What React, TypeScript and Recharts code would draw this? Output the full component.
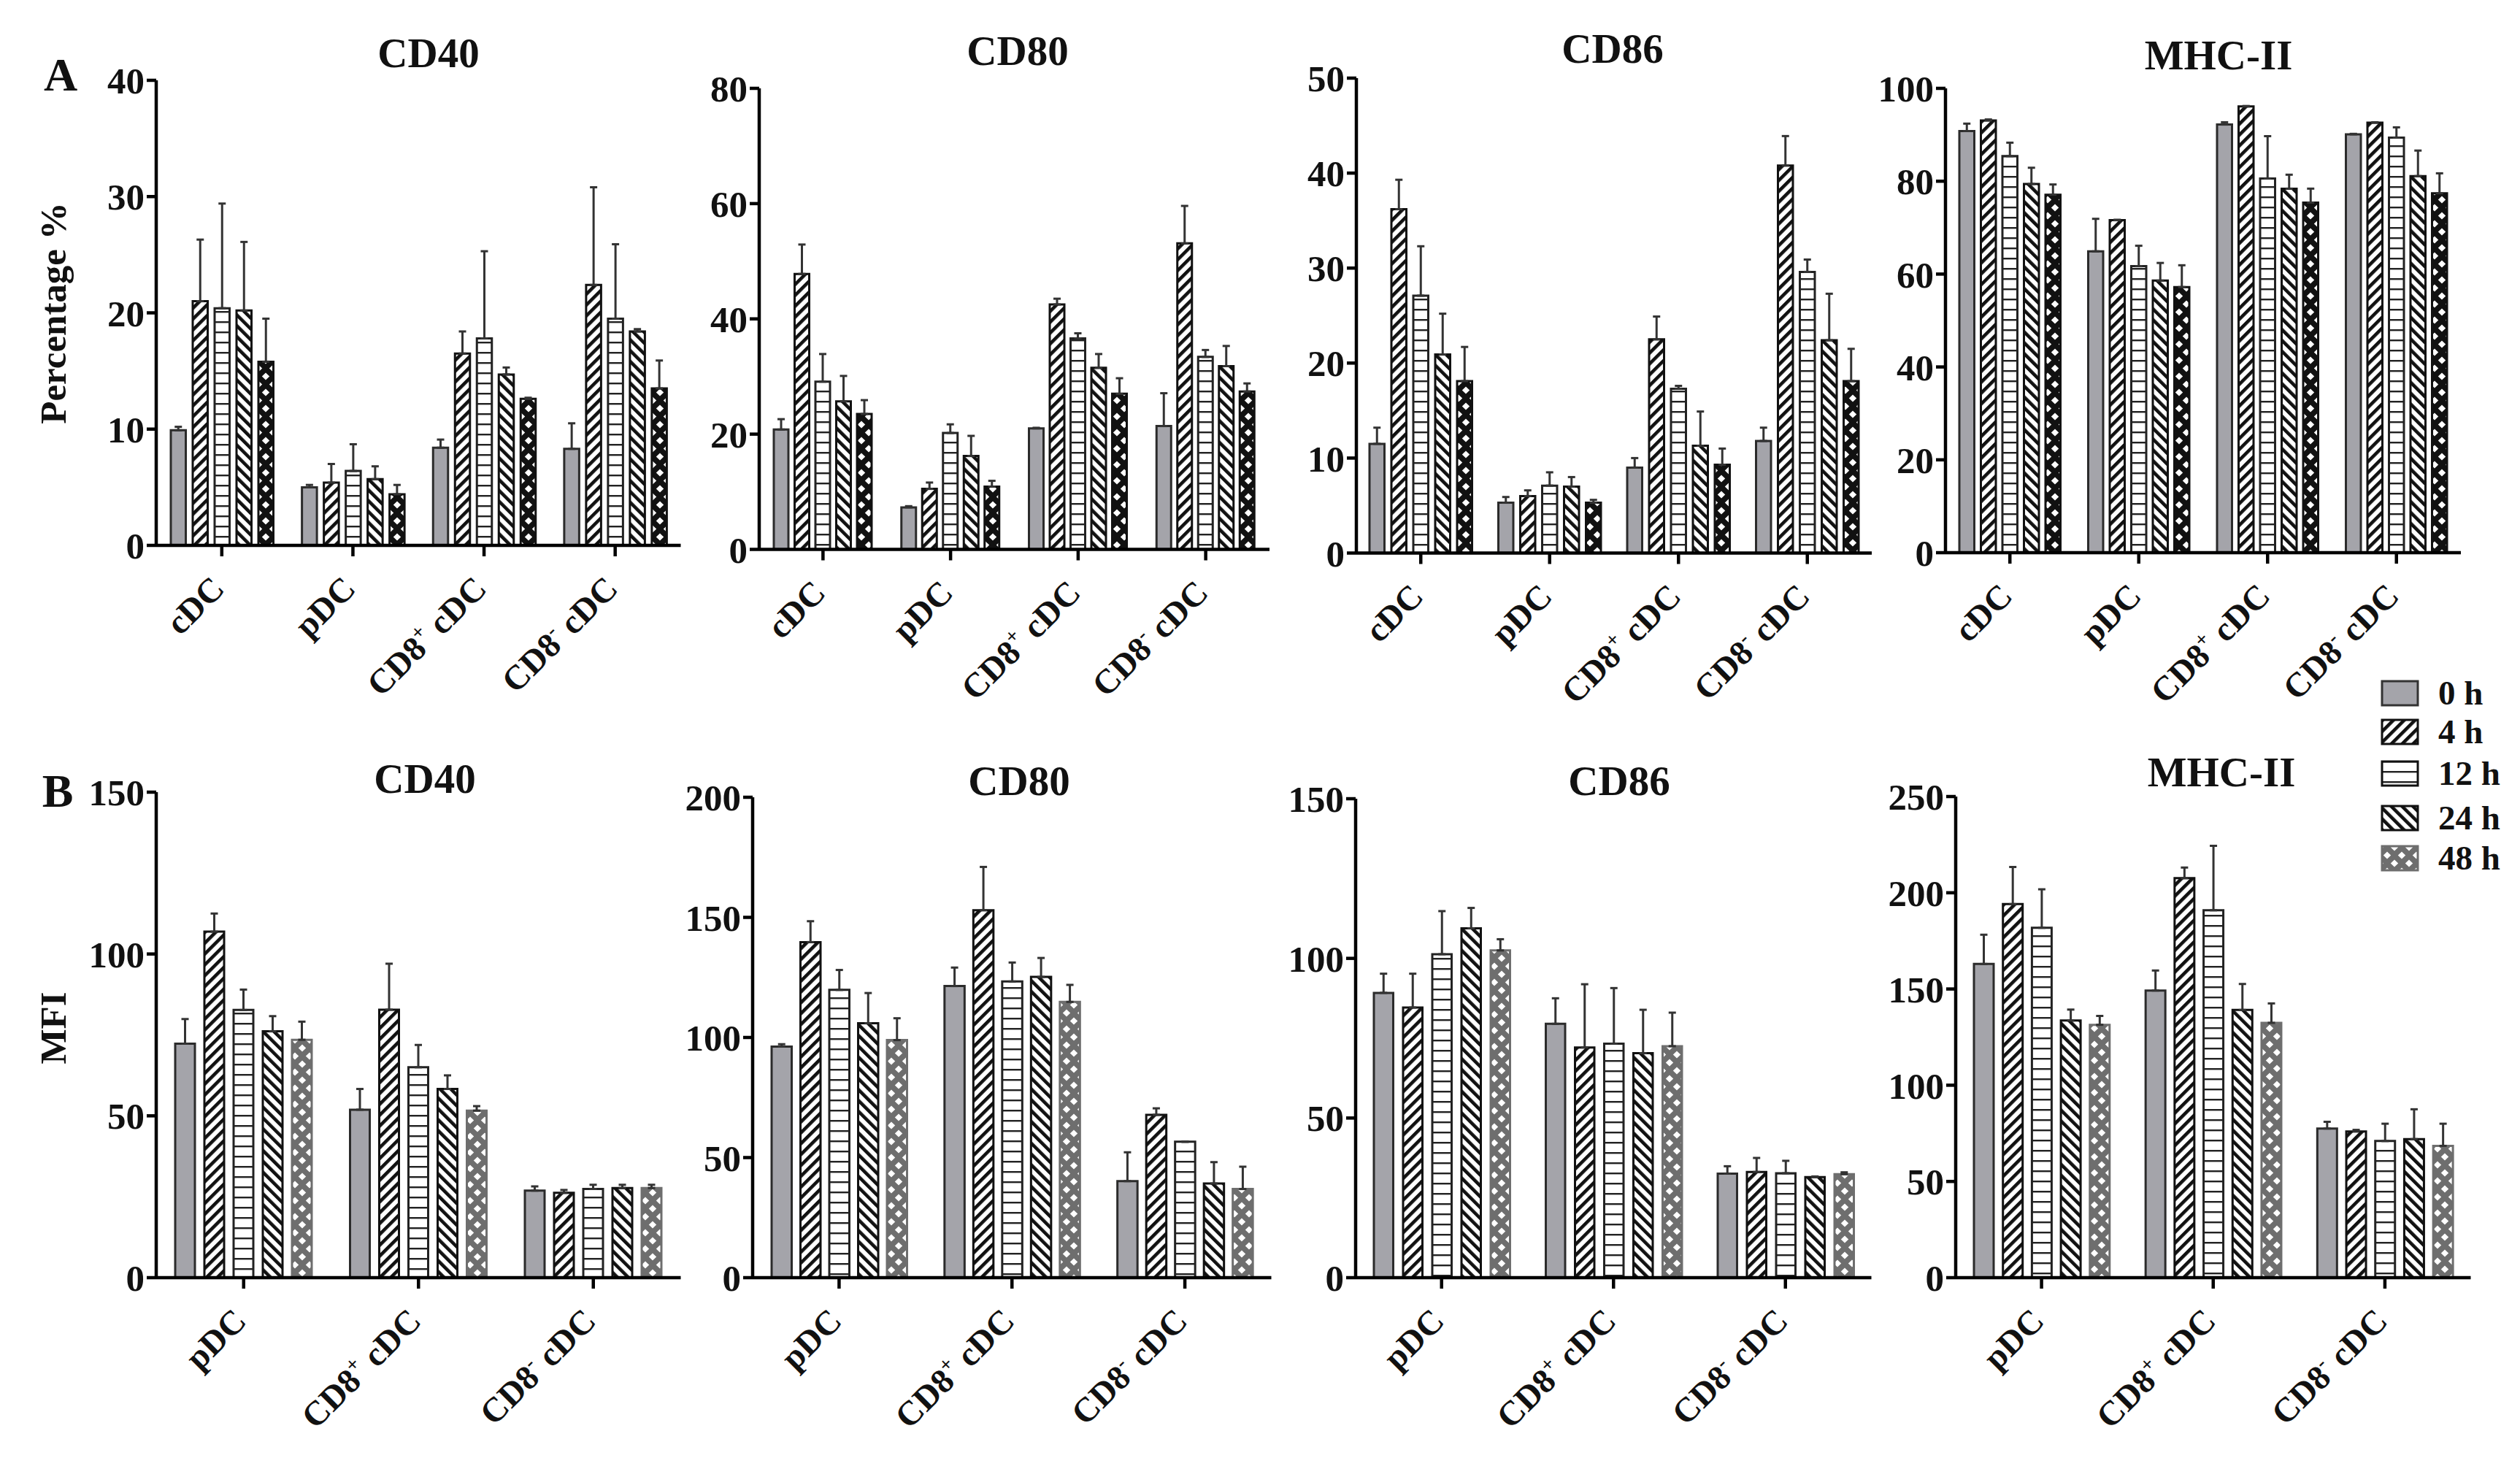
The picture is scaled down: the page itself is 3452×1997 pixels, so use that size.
import React from 'react';
import { BarChart, Bar, XAxis, YAxis, ErrorBar } from 'recharts';

// ---------- data ----------
const timePoints = ['0 h', '4 h', '12 h', '24 h', '48 h'];
const cellsA = ['cDC', 'pDC', 'CD8+ cDC', 'CD8- cDC'];
const cellsB = ['pDC', 'CD8+ cDC', 'CD8- cDC'];

// rows = cell types, columns = time points (0,4,12,24,48 h)
const aCD40Mean = [[9.9, 21.0, 20.4, 20.2, 15.8], [5.0, 5.4, 6.4, 5.7, 4.4], [8.4, 16.5, 17.8, 14.7, 12.6], [8.3, 22.4, 19.5, 18.4, 13.5]];
const aCD40Err = [[0.3, 5.3, 9.0, 5.9, 3.7], [0.2, 1.6, 2.3, 1.1, 0.8], [0.7, 1.9, 7.5, 0.6, 0.1], [2.2, 8.4, 6.4, 0.2, 2.4]];

const aCD80Mean = [[20.8, 47.8, 29.1, 25.7, 23.5], [7.3, 10.5, 20.2, 16.2, 10.9], [21.0, 42.5, 36.6, 31.5, 27.0], [21.4, 53.1, 33.4, 31.8, 27.4]];
const aCD80Err = [[1.8, 5.1, 4.8, 4.4, 2.4], [0.2, 1.1, 1.5, 3.5, 1.0], [0.1, 1.0, 0.9, 2.4, 2.7], [5.7, 6.5, 1.2, 3.5, 1.4]];

const aCD86Mean = [[11.5, 36.2, 27.1, 20.9, 18.1], [5.3, 6.0, 7.1, 7.0, 5.3], [9.0, 22.5, 17.3, 11.3, 9.3], [11.8, 40.8, 29.6, 22.4, 18.1]];
const aCD86Err = [[1.7, 3.1, 5.2, 4.3, 3.6], [0.6, 0.6, 1.4, 1.0, 0.3], [1.0, 2.4, 0.3, 3.6, 1.7], [1.4, 3.1, 1.3, 4.9, 3.4]];

const aMHCMean = [[90.8, 93.1, 85.4, 79.4, 77.1], [64.9, 71.6, 61.7, 58.6, 57.2], [92.2, 96.1, 80.6, 78.4, 75.4], [90.1, 92.6, 89.4, 81.1, 77.4]];
const aMHCErr = [[1.6, 0.2, 2.9, 3.5, 2.2], [7.0, 0.1, 4.4, 3.8, 4.7], [0.5, 0.1, 9.1, 3.0, 3.0], [0.1, 0.1, 2.2, 5.5, 4.3]];

const bCD40Mean = [[72.3, 106.9, 82.7, 76.1, 73.5], [51.9, 82.8, 65.0, 58.3, 51.6], [26.9, 26.2, 27.4, 27.7, 27.7]];
const bCD40Err = [[7.6, 5.6, 6.3, 4.7, 5.6], [6.4, 14.2, 6.9, 4.2, 1.4], [1.3, 0.9, 1.3, 1.0, 1.0]];

const bCD80Mean = [[96.2, 139.7, 119.8, 105.9, 98.9], [121.4, 153.0, 123.3, 125.2, 114.8], [40.2, 67.8, 56.6, 39.2, 36.9]];
const bCD80Err = [[1.0, 8.7, 8.3, 12.6, 9.1], [7.7, 18.0, 7.9, 7.9, 7.1], [12.0, 2.7, 0, 8.9, 9.3]];

const bCD86Mean = [[89.2, 84.6, 101.3, 109.4, 102.5], [79.5, 72.1, 73.3, 70.3, 72.5], [32.6, 33.1, 32.7, 31.5, 32.4]];
const bCD86Err = [[6.0, 10.6, 13.5, 6.4, 3.5], [8.0, 19.8, 17.4, 13.6, 10.5], [2.3, 4.4, 3.9, 0.2, 0.6]];

const bMHCMean = [[163.0, 194.1, 181.8, 133.6, 131.4], [149.2, 207.6, 190.9, 139.1, 132.4], [77.5, 76.0, 71.0, 72.0, 68.5]];
const bMHCErr = [[15.2, 19.3, 20.0, 5.7, 4.6], [10.4, 5.5, 33.5, 13.5, 10.1], [3.5, 0.8, 9.0, 15.5, 11.5]];

const ticksA40 = [0, 10, 20, 30, 40];
const ticksA80 = [0, 20, 40, 60, 80];
const ticksA50 = [0, 10, 20, 30, 40, 50];
const ticksA100 = [0, 20, 40, 60, 80, 100];
const ticksB150 = [0, 50, 100, 150];
const ticksB200 = [0, 50, 100, 150, 200];
const ticksB250 = [0, 50, 100, 150, 200, 250];

// ---------- helpers ----------
function buildTable(cells: string[], means: number[][], errs: number[][]) {
  return cells.map((cell, i) => {
    const row: any = { cell };
    timePoints.forEach((_, j) => {
      row['v' + j] = means[i][j];
      row['e' + j] = [0, errs[i][j]];
    });
    return row;
  });
}

const SERIF = "'Liberation Serif', 'Times New Roman', serif";

const fillsA = ['#a4a4aa', 'url(#pat4)', 'url(#pat12)', 'url(#pat24)', 'url(#pat48k)'];
const fillsB = ['#a4a4aa', 'url(#pat4)', 'url(#pat12)', 'url(#pat24)', 'url(#pat48g)'];
const strokesA = ['#2b2b2b', '#111', '#222', '#111', '#111'];
const strokesB = ['#2b2b2b', '#111', '#222', '#111', '#6e6e6e'];

const CatTick = (props: any) => {
  const { x, y, payload } = props;
  const label: string = String(payload.value);
  const ex = x + 6;
  const ey = y + 47;
  const m = label.match(/^CD8([+-]) (.*)$/);
  return (
    <text
      x={ex}
      y={ey}
      transform={`rotate(-45 ${ex} ${ey})`}
      textAnchor="end"
      fontFamily={SERIF}
      fontSize={47}
      fontWeight={700}
      fill="#111"
    >
      {m ? (
        <>
          <tspan>CD8</tspan>
          <tspan dy={-19} fontSize={28}>{m[1]}</tspan>
          <tspan dy={19}>{'\u00A0' + m[2]}</tspan>
        </>
      ) : (
        label
      )}
    </text>
  );
};

type PanelCfg = {
  data: any[];
  ticks: number[];
  axisX: number;
  axisEnd: number;
  topY: number;
  zeroY: number;
  barSize: number;
  barGap: number;
  fills: string[];
  strokes: string[];
};

function Panel({ cfg }: { cfg: PanelCfg }) {
  const w = cfg.axisEnd - cfg.axisX + 190;
  const h = cfg.zeroY - cfg.topY + 300;
  const max = cfg.ticks[cfg.ticks.length - 1];
  return (
    <div style={{ position: 'absolute', left: cfg.axisX - 180, top: cfg.topY - 40, width: w, height: h }}>
      <BarChart
        width={w}
        height={h}
        data={cfg.data}
        margin={{ top: 40, right: 10, bottom: 60, left: 30 }}
        barSize={cfg.barSize}
        barGap={cfg.barGap}
      >
        <XAxis
          dataKey="cell"
          height={200}
          interval={0}
          tickSize={15}
          tickMargin={0}
          axisLine={{ stroke: '#000', strokeWidth: 4.5 }}
          tickLine={{ stroke: '#000', strokeWidth: 4.5 }}
          tick={<CatTick />}
        />
        <YAxis
          width={150}
          domain={[0, max]}
          ticks={cfg.ticks}
          interval={0}
          tickSize={13}
          tickMargin={3}
          axisLine={{ stroke: '#000', strokeWidth: 4.5 }}
          tickLine={{ stroke: '#000', strokeWidth: 4.5 }}
          tick={{ fill: '#111', fontSize: 51, fontWeight: 700, fontFamily: SERIF }}
        />
        {timePoints.map((t, j) => (
          <Bar
            key={t}
            name={t}
            dataKey={'v' + j}
            fill={cfg.fills[j]}
            stroke={cfg.strokes[j]}
            strokeWidth={3}
            isAnimationActive={false}
          >
            <ErrorBar dataKey={'e' + j} width={5} stroke="#333" strokeWidth={3} direction="y" isAnimationActive={false} />
          </Bar>
        ))}
      </BarChart>
    </div>
  );
}

const panels: PanelCfg[] = [
  { data: buildTable(cellsA, aCD40Mean, aCD40Err), ticks: ticksA40, axisX: 213.5, axisEnd: 932, topY: 110, zeroY: 747, barSize: 20.5, barGap: 9.5, fills: fillsA, strokes: strokesA },
  { data: buildTable(cellsA, aCD80Mean, aCD80Err), ticks: ticksA80, axisX: 1040, axisEnd: 1739, topY: 121, zeroY: 752.5, barSize: 20, barGap: 8.5, fills: fillsA, strokes: strokesA },
  { data: buildTable(cellsA, aCD86Mean, aCD86Err), ticks: ticksA50, axisX: 1858, axisEnd: 2564, topY: 106.5, zeroY: 757, barSize: 20.5, barGap: 9.5, fills: fillsA, strokes: strokesA },
  { data: buildTable(cellsA, aMHCMean, aMHCErr), ticks: ticksA100, axisX: 2665, axisEnd: 3371, topY: 121, zeroY: 757, barSize: 20.5, barGap: 9, fills: fillsA, strokes: strokesA },
  { data: buildTable(cellsB, bCD40Mean, bCD40Err), ticks: ticksB150, axisX: 213.5, axisEnd: 932, topY: 1085, zeroY: 1750, barSize: 27, barGap: 13, fills: fillsB, strokes: strokesB },
  { data: buildTable(cellsB, bCD80Mean, bCD80Err), ticks: ticksB200, axisX: 1030.5, axisEnd: 1741, topY: 1092, zeroY: 1750, barSize: 27.5, barGap: 12, fills: fillsB, strokes: strokesB },
  { data: buildTable(cellsB, bCD86Mean, bCD86Err), ticks: ticksB150, axisX: 1857, axisEnd: 2563.5, topY: 1094, zeroY: 1750, barSize: 26.5, barGap: 13.5, fills: fillsB, strokes: strokesB },
  { data: buildTable(cellsB, bMHCMean, bMHCErr), ticks: ticksB250, axisX: 2678.5, axisEnd: 3384, topY: 1091, zeroY: 1750, barSize: 27, barGap: 12.7, fills: fillsB, strokes: strokesB },
];

const titles = [
  { text: 'CD40', x: 587, y: 92 },
  { text: 'CD80', x: 1394, y: 89 },
  { text: 'CD86', x: 2209, y: 86 },
  { text: 'MHC-II', x: 3039, y: 95 },
  { text: 'CD40', x: 582, y: 1086 },
  { text: 'CD80', x: 1396, y: 1089 },
  { text: 'CD86', x: 2218, y: 1089 },
  { text: 'MHC-II', x: 3043, y: 1077 },
];

const legendRows = [
  { y: 933, fill: '#a4a4aa', stroke: '#333' },
  { y: 986, fill: 'url(#pat4)', stroke: '#111' },
  { y: 1043, fill: 'url(#pat12)', stroke: '#111' },
  { y: 1104, fill: 'url(#pat24)', stroke: '#111' },
  { y: 1159, fill: 'url(#pat48g)', stroke: '#6e6e6e' },
];

function Overlay() {
  return (
    <svg
      width={3452}
      height={1997}
      style={{ position: 'absolute', left: 0, top: 0, pointerEvents: 'none' }}
      fontFamily={SERIF}
      fontWeight={700}
    >
      <defs>
        <pattern id="pat4" patternUnits="userSpaceOnUse" width="10.5" height="10.5" patternTransform="rotate(45)">
          <rect width="10.5" height="10.5" fill="#fff" />
          <rect width="4.6" height="10.5" fill="#111" />
        </pattern>
        <pattern id="pat24" patternUnits="userSpaceOnUse" width="10.5" height="10.5" patternTransform="rotate(-45)">
          <rect width="10.5" height="10.5" fill="#fff" />
          <rect width="4.6" height="10.5" fill="#111" />
        </pattern>
        <pattern id="pat12" patternUnits="userSpaceOnUse" width="10" height="14">
          <rect width="10" height="14" fill="#fff" />
          <rect y="6" width="10" height="2.4" fill="#222" />
        </pattern>
        <pattern id="pat48k" patternUnits="userSpaceOnUse" width="20" height="22">
          <rect width="20" height="22" fill="#111" />
          <path d="M10 0.6 L15.2 5.5 L10 10.4 L4.8 5.5 Z M0 11.6 L5.2 16.5 L0 21.4 L-5.2 16.5 Z M20 11.6 L25.2 16.5 L20 21.4 L14.8 16.5 Z" fill="#fff" />
        </pattern>
        <pattern id="pat48g" patternUnits="userSpaceOnUse" width="20" height="22">
          <rect width="20" height="22" fill="#6e6e6e" />
          <path d="M10 0.6 L15.2 5.5 L10 10.4 L4.8 5.5 Z M0 11.6 L5.2 16.5 L0 21.4 L-5.2 16.5 Z M20 11.6 L25.2 16.5 L20 21.4 L14.8 16.5 Z" fill="#fff" />
        </pattern>
      </defs>

      <text x={83} y={124} fontSize={64} textAnchor="middle" fill="#111">A</text>
      <text x={79} y={1105} fontSize={64} textAnchor="middle" fill="#111">B</text>

      <text transform="translate(90,429) rotate(-90)" fontSize={51} textAnchor="middle" fill="#111">Percentage %</text>
      <text transform="translate(90,1408) rotate(-90)" fontSize={51} textAnchor="middle" fill="#111">MFI</text>

      {titles.map((t, i) => (
        <text key={i} x={t.x} y={t.y} fontSize={57} textAnchor="middle" fill="#111">{t.text}</text>
      ))}

      {legendRows.map((r, i) => (
        <g key={i}>
          <rect x={3263} y={r.y} width={49} height={33} fill={r.fill} stroke={r.stroke} strokeWidth={3} />
          <text x={3340} y={r.y + 32} fontSize={47} fill="#111">{timePoints[i]}</text>
        </g>
      ))}
    </svg>
  );
}

export default function App() {
  return (
    <div style={{ position: 'absolute', left: 0, top: 0, width: 3452, height: 1997, background: '#fff', overflow: 'hidden' }}>
      {panels.map((p, i) => (
        <Panel key={i} cfg={p} />
      ))}
      <Overlay />
    </div>
  );
}
